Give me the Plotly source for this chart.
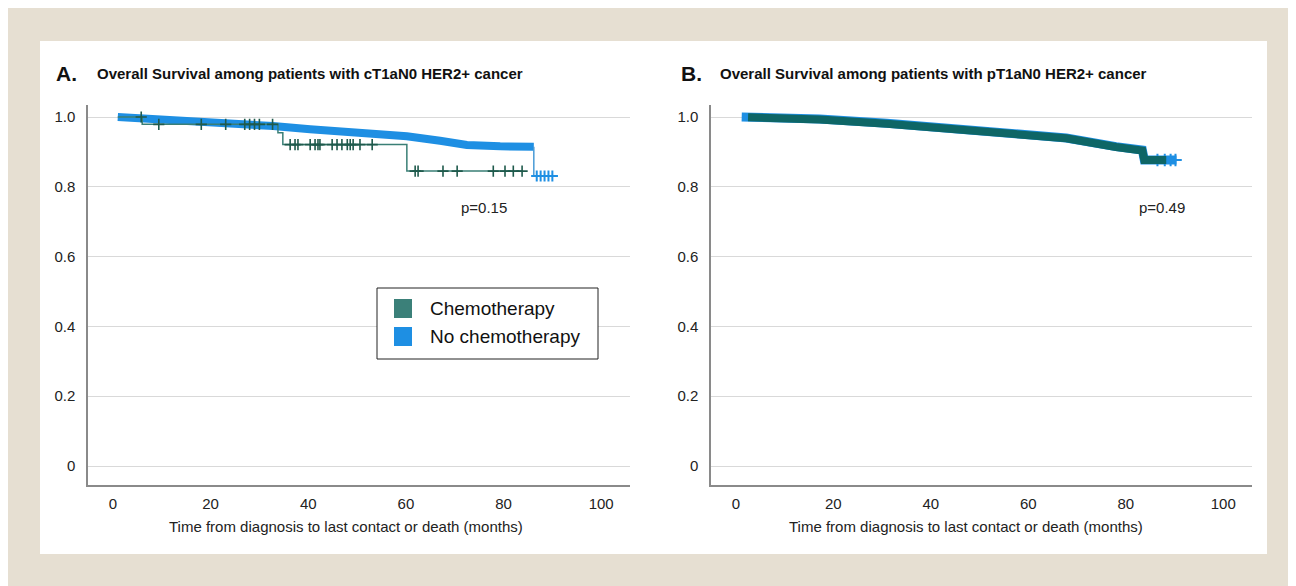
import numpy as np
import plotly.graph_objects as go

# ---------------- data ----------------
# Panel A: cT1aN0
a_chemo_t = [1.0, 6.0, 33.8, 34.8, 60.2, 84.0]
a_chemo_s = [1.0, 0.979, 0.955, 0.921, 0.845, 0.845]
a_chemo_cens = [5.8, 9.4, 18.1, 23.1, 27.0, 28.0, 29.0, 30.0, 32.7, 36.3, 37.3, 37.9,
                40.4, 41.4, 42.0, 42.4, 44.9, 45.9, 46.9, 48.0, 48.6, 49.2, 50.6, 53.1,
                61.9, 62.5, 67.6, 70.5, 77.9, 80.3, 82.0, 83.8]
a_no_t = [1.0, 7.6, 15.8, 24.0, 32.8, 40.4, 48.6, 56.8, 60.2, 67.0, 72.5, 79.3, 86.2]
a_no_s = [1.0, 0.995, 0.99, 0.982, 0.974, 0.965, 0.958, 0.948, 0.945, 0.932, 0.920, 0.916, 0.915]
a_no_tail_t = [86.2, 86.2, 90.0]
a_no_tail_s = [0.915, 0.831, 0.831]
a_no_cens = [86.8, 87.6, 88.4, 89.2, 90.0]

# Panel B: pT1aN0
b_no_t = [1.2, 9.0, 17.2, 31.0, 44.5, 54.1, 67.8, 78.0, 83.4, 83.8, 90.4]
b_no_s = [1.0, 0.997, 0.994, 0.982, 0.968, 0.958, 0.94, 0.915, 0.905, 0.877, 0.877]
b_no_cens = [86.5, 88.0, 89.2, 90.2]
b_chemo_t = [2.5, 9.0, 17.2, 31.0, 44.5, 54.1, 67.8, 78.0, 83.4, 83.8, 88.3]
b_chemo_s = [0.999, 0.997, 0.993, 0.981, 0.967, 0.957, 0.939, 0.914, 0.904, 0.877, 0.877]

x_ticks = [0, 20, 40, 60, 80, 100]
y_ticks = [0, 0.2, 0.4, 0.6, 0.8, 1.0]
y_ticktext = ["0", "0.2", "0.4", "0.6", "0.8", "1.0"]

groups = ["Chemotherapy", "No chemotherapy"]
p_values = ["p=0.15", "p=0.49"]
titles = ["Overall Survival among patients with cT1aN0 HER2+ cancer",
          "Overall Survival among patients with pT1aN0 HER2+ cancer"]
panel_letters = ["A.", "B."]
x_title = "Time from diagnosis to last contact or death (months)"

# ---------------- styling ----------------
TEAL_LINE = "#3a7f76"
TEAL_MARK = "#1f5a4c"
TEAL_DARK = "#0e6666"
TEAL_LEG = "#3b8079"
BLUE = "#1e8fe3"
BEIGE = "#e6dfd2"
FONT = "Liberation Sans, Arial, sans-serif"

W, H = 1296, 578  # page body margin of 8px places the figure at (8,8)


def PX(p):
    return (p - 8) / W


def PY(p):
    return 1 - (p - 8) / H


def step_val(t, s, c):
    i = np.searchsorted(np.array(t), c, side="right") - 1
    return float(np.array(s)[max(i, 0)])


fig = go.Figure()

# Panel A traces
fig.add_trace(go.Scatter(x=a_no_t, y=a_no_s, mode="lines",
                         line=dict(color=BLUE, width=8), xaxis="x", yaxis="y",
                         showlegend=False, hoverinfo="skip"))
fig.add_trace(go.Scatter(x=a_no_tail_t, y=a_no_tail_s, mode="lines",
                         line=dict(color="#4a9bd6", width=1.5), xaxis="x", yaxis="y",
                         showlegend=False, hoverinfo="skip"))
fig.add_trace(go.Scatter(x=a_no_cens, y=[a_no_tail_s[-1]] * len(a_no_cens), mode="markers",
                         marker=dict(symbol="cross-thin", size=8, line=dict(color=BLUE, width=2)),
                         xaxis="x", yaxis="y", showlegend=False, hoverinfo="skip"))
fig.add_trace(go.Scatter(x=a_chemo_t, y=a_chemo_s, mode="lines", line_shape="hv",
                         line=dict(color=TEAL_LINE, width=1.5), xaxis="x", yaxis="y",
                         showlegend=False, hoverinfo="skip"))
fig.add_trace(go.Scatter(x=a_chemo_cens, y=[step_val(a_chemo_t, a_chemo_s, c) for c in a_chemo_cens],
                         mode="markers",
                         marker=dict(symbol="cross-thin", size=8, line=dict(color=TEAL_MARK, width=1.6)),
                         xaxis="x", yaxis="y", showlegend=False, hoverinfo="skip"))

# Panel B traces
fig.add_trace(go.Scatter(x=b_no_t, y=b_no_s, mode="lines",
                         line=dict(color=BLUE, width=9), xaxis="x2", yaxis="y2",
                         showlegend=False, hoverinfo="skip"))
fig.add_trace(go.Scatter(x=b_no_cens, y=[b_no_s[-1]] * len(b_no_cens), mode="markers",
                         marker=dict(symbol="cross-thin", size=9, line=dict(color=BLUE, width=2)),
                         xaxis="x2", yaxis="y2", showlegend=False, hoverinfo="skip"))
fig.add_trace(go.Scatter(x=b_chemo_t, y=b_chemo_s, mode="lines",
                         line=dict(color=TEAL_DARK, width=8), xaxis="x2", yaxis="y2",
                         showlegend=False, hoverinfo="skip"))

xr = [-5.1, 105.9]
yr = [-0.0544, 1.0344]
xax = dict(range=xr, tickvals=x_ticks, showgrid=False, zeroline=False, showline=True,
           linecolor="#8a8a8a", linewidth=1.5, ticks="", fixedrange=True, ticklabelstandoff=4,
           tickfont=dict(size=15, color="#222", family=FONT))
yax = dict(range=yr, tickvals=y_ticks, ticktext=y_ticktext, showgrid=True, gridcolor="#d9d9d9",
           gridwidth=1.2, zeroline=False, showline=True, linecolor="#8a8a8a", linewidth=1.5,
           ticks="", fixedrange=True, ticklabelstandoff=8,
           tickfont=dict(size=15, color="#222", family=FONT))

shapes = [
    dict(type="rect", xref="paper", yref="paper", x0=0, x1=1, y0=0, y1=1,
         fillcolor=BEIGE, line=dict(width=0), layer="below"),
    dict(type="rect", xref="paper", yref="paper", x0=PX(40), x1=PX(1267), y0=PY(554), y1=PY(41),
         fillcolor="white", line=dict(width=0), layer="below"),
    # legend box and swatches
    dict(type="rect", xref="paper", yref="paper", x0=PX(377), x1=PX(598), y0=PY(359), y1=PY(288),
         fillcolor="white", line=dict(color="#222", width=1), layer="above"),
    dict(type="rect", xref="paper", yref="paper", x0=PX(394), x1=PX(412), y0=PY(318), y1=PY(299),
         fillcolor=TEAL_LEG, line=dict(width=0), layer="above"),
    dict(type="rect", xref="paper", yref="paper", x0=PX(394), x1=PX(412), y0=PY(346), y1=PY(327),
         fillcolor=BLUE, line=dict(width=0), layer="above"),
]


def note(text, x, y, size, anchor="left", color="#111"):
    return dict(text=text, x=PX(x), y=PY(y), xref="paper", yref="paper",
                xanchor=anchor, yanchor="middle", showarrow=False,
                font=dict(size=size, color=color, family=FONT))


annotations = [
    note("<b>" + panel_letters[0] + "</b>", 54, 74, 21),
    note("<b>" + titles[0] + "</b>", 95, 73, 15),
    note("<b>" + panel_letters[1] + "</b>", 679, 74, 21),
    note("<b>" + titles[1] + "</b>", 718, 73, 15),
    note(p_values[0], 484, 208, 15, "center", "#222"),
    note(p_values[1], 1162, 207, 15, "center", "#222"),
    note(groups[0], 428, 308, 19),
    note(groups[1], 428, 337, 19),
    note(x_title, 346, 526, 15, "center", "#222"),
    note(x_title, 966, 526, 15, "center", "#222"),
]

fig.update_layout(
    width=W, height=H, autosize=False,
    margin=dict(l=0, r=0, t=0, b=0),
    paper_bgcolor=BEIGE, plot_bgcolor="rgba(0,0,0,0)",
    xaxis=dict(domain=[PX(88), PX(630)], anchor="y", **xax),
    yaxis=dict(domain=[PY(485), PY(105)], anchor="x", **yax),
    xaxis2=dict(domain=[PX(711), PX(1252)], anchor="y2", **xax),
    yaxis2=dict(domain=[PY(485), PY(105)], anchor="x2", **yax),
    shapes=shapes, annotations=annotations, showlegend=False,
    font=dict(family=FONT),
)

fig.write_html("out.html")
